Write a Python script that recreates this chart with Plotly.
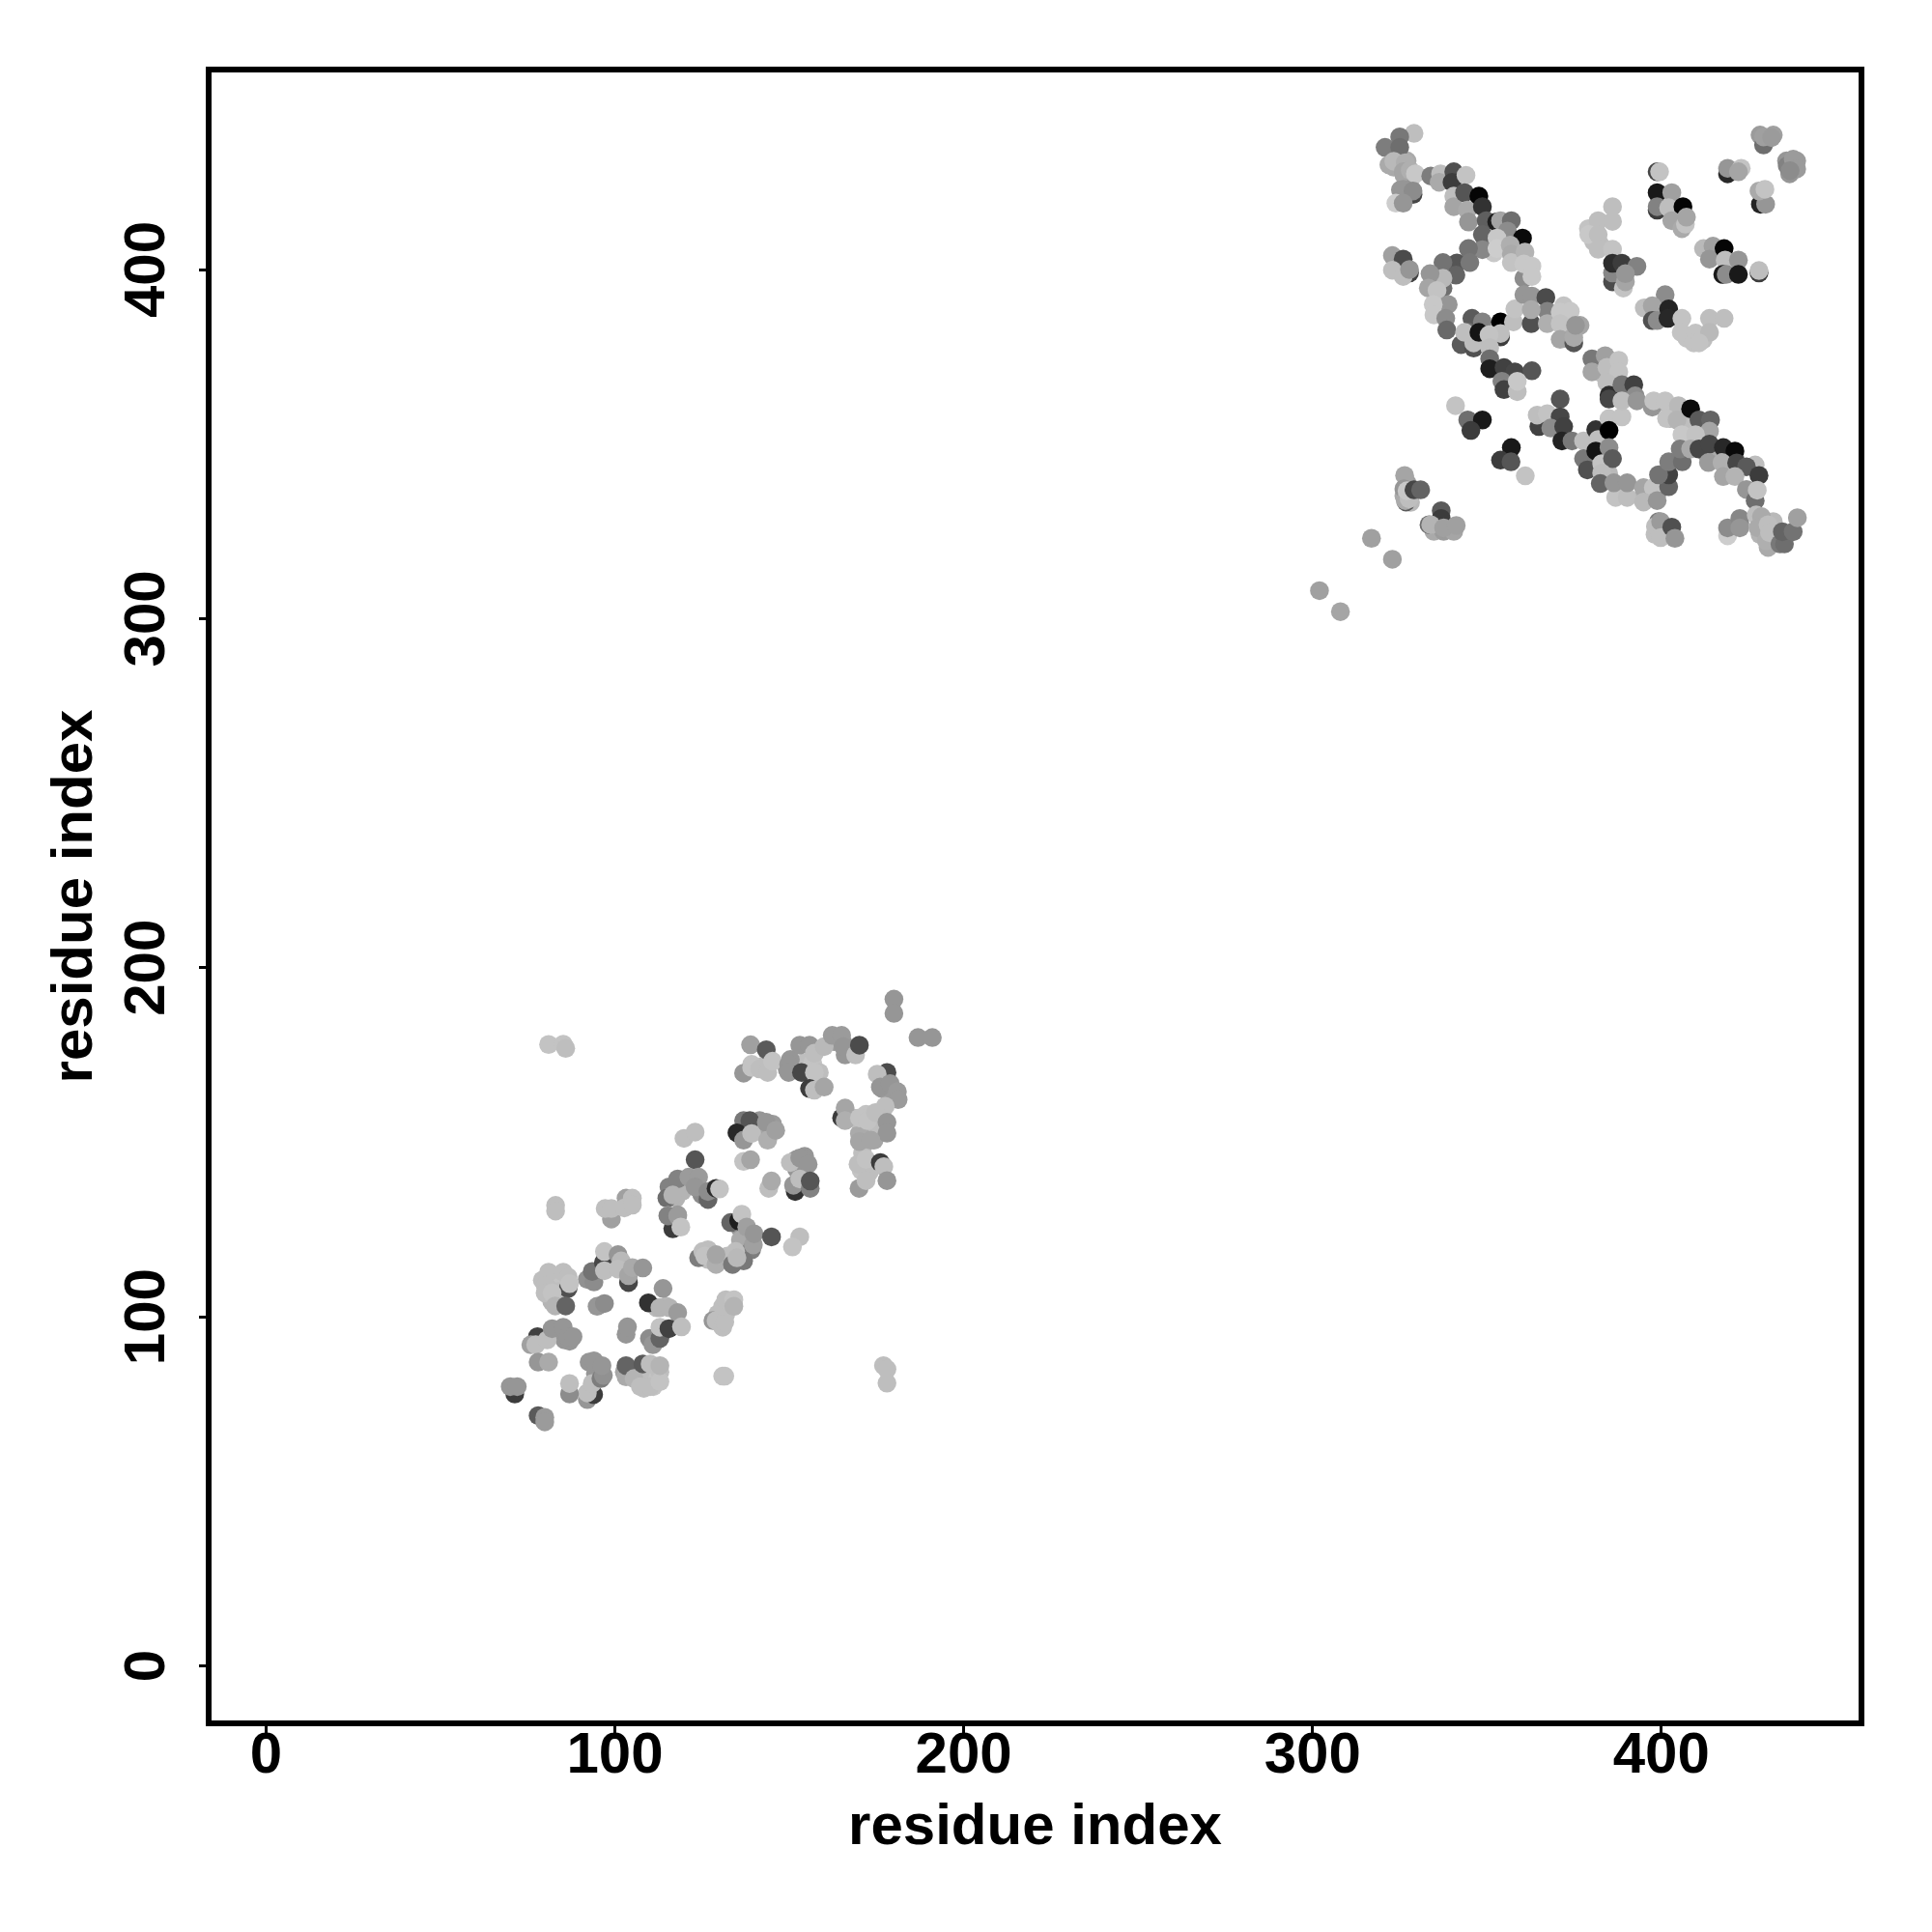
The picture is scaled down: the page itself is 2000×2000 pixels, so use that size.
import plotly.graph_objects as go

tick_values = [0, 100, 200, 300, 400]
x_title = "residue index"
y_title = "residue index"

# (residue i, residue j, grey level)
outliers = [(316.9,323,160),(322.9,317,160),(302,308,160),(308,302,165),(341,361,195),(361,340.9,195)]
upper_fill = [
(352,410.8,190),(353.9,408,195),(349.6,408,130),(355.8,407.1,165),(352,404.8,200),
(323.3,429.3,170),(327.1,431.1,170),(326.2,427,165),(328.1,426,165),(325.2,422.8,150),(327.6,423.7,150),
(428.3,438.5,155),(430.2,437.1,150),(432.1,438.5,160),(435.9,431.1,150),(438.8,431.1,155),(436.8,427.4,150),
(368.2,386.8,185),(370,385,195),(372,389.6,195),(373.9,384,175),(376.7,384,165),(372,380.3,165),(374.8,382.2,170),
(382.5,373,180),(385.3,373.9,180),(383,370.2,190),(386.3,369.3,190),
(383,346.3,190),(383,343.5,195),(384.9,341.6,185),(381,343.5,180),
(402.5,360.1,190),(402.5,357.3,180),(406.8,356,190),(413,347.2,160),(415.9,347.2,170),
(396.8,335.2,165),(394.9,335.2,175),(398.7,335.6,150),(422.5,327.3,145),
(429.2,326,175),(428.3,324.1,180),(432.1,327.8,185),(432.1,323.2,175),(430.6,320.4,170),(434.9,323.2,110),
(326.2,335.2,170),(328.1,333.3,185),(327.1,338.9,160),
(334.8,325,170),(337.6,325,155),(340.5,325,165),(399.6,325,170),(398.2,324.1,190),
(407.3,380.3,195),(412,379.9,190),(379.1,411.7,195),(380.6,408,190),(382.5,407.1,190),
]
lower_fill = [
(83.8,95.7,150),(85.6,93.4,150),(87,93,150),(92.6,87,150),(95.3,85,150),(94.4,83.7,150),
(107.3,83.2,190),(110.1,83.2,190),(112.4,82.8,195),(108.3,79.5,190),(111,80,195),(112.9,84.2,190),(102.7,84.2,165),(104.6,83.2,165),
(81.9,110.5,190),(84.3,109,195),(79.2,110.5,190),(81.9,104.4,180),(81,108.1,190),(83.8,107.2,190),
(136,125.2,150),(138.7,122.9,150),(136,122,170),(112,102.6,185),(114.7,103,185),(102.7,114.6,185),
(126.7,119.2,190),(126.7,116.4,190),(132.3,117.4,190),(129.5,100.8,190),(131.8,100.8,190),
(176.6,165.4,150),(180.3,164.5,155),(178.9,162.6,155),(172,151.5,165),(174.3,150.6,165),(170.1,152.5,170),
(168.3,157,190),(172,158,195),(174.7,155.2,190),(176.6,158.5,190),(170.6,141.9,195),(172.9,141.4,190),(171,146.9,190),
(142.4,153.4,150),(144.3,152.5,165),(141.5,156.2,150),(145.2,155.2,155),(152.1,145.1,150),(154.4,146,150),(152.1,142.3,150),
(154.4,172.8,190),(156.7,172.8,195),(158.6,170,190),(156.3,168.2,190),(150.3,173.7,150),(149.4,170.9,150),(142.4,171.8,190),(139.2,172.3,195),
(162.8,178.8,155),(165.5,178.3,150),(167.4,175.5,150),(166,175,150),
(121.2,137.7,150),(124,136.8,150),(124.9,135,140),(126.7,135,130),(116.6,136.8,170),(117.5,134,180),(119.3,135.9,180),
]
upper_a = [
(329.1,439,190),(325,438,120),(320.8,435,125),(325,435,110),(321.9,430,170),(323.3,431,185),(326.6,430.6,175),(326,428,165),(328,428.4,175),(329.5,427.4,200),
(328.8,421.5,70),(326,423,150),(328.8,422.5,140),(323.9,419,205),(326,419,150),
(333.9,426.8,125),(336.7,427.4,190),(336.3,425,170),(340.5,428,80),(340,425,60),(344,427,195),
(340.5,421,190),(340.5,418,165),(343.6,422,85),(347.7,421,5),(344.4,417,170),(348.7,418,50),(344.7,413.6,150),(349.8,414,95),(352.8,413.6,30),(353.9,414,165),(357,414,110),(355.9,411,140),
(348.7,410,100),(348.7,405.7,135),(360.2,409,10),(352.9,409,200),(352.9,406,205),(356.7,407,175),(357,404.4,170),(357,402,195),(360.9,405,180),(360.6,397.5,140),(360.6,401.6,200),(362.9,401,200),(362.9,398,200),
(344.7,406,115),(341.4,401.9,85),(345.1,402,120),(337.4,402,115),(341.1,398.4,100),(337.4,394.7,110),(337.4,397.5,185),(333.7,398.8,150),(333.2,394.7,165),(335.7,394,195),(338.9,390,150),(334.6,390,200),(334.8,387,200),(338.2,386,140),(338.5,382.7,105),
(322.9,404,160),(326,403,75),(322.9,399.8,190),(327.8,399,65),(326,398,190),(327.8,400,150),
]
upper_b = [
(345.7,386,90),(348.7,385,130),(353.9,385,0),(357.6,385,190),(358,388.7,195),(344.7,382,110),(342.6,378.5,90),(346.2,377.5,80),(346.2,379,190),(343.6,382,190),(347.7,382,20),(353.9,380.7,60),(353.9,381.7,190),(350.6,381.3,195),(350.8,377.6,190),(350.8,374.4,110),(350.8,371.6,30),(354.9,371.9,65),(358,370.7,70),(362.9,371,85),(354.3,368,130),(354.9,365.6,65),(358.7,365,190),(358.7,368,200),
(360.6,392.8,150),(362.9,392.4,150),(366.9,392,75),(367.3,388,130),(362.7,384.5,80),(362.7,388.5,170),(367.3,384.5,175),(371,387.8,200),(373.9,388,200),(371,384.5,195),(371,380,165),(374.9,379,85),(374.9,380.5,170),(375.4,384,150),
(386,418,190),(381.9,414,190),(386,413.8,190),(379.2,410,200),(381.9,410,190),(381.9,405.8,190),(386,405.8,195),(386,396.5,75),(386,399,135),(386,401.8,45),(388.7,401.8,60),(393,400.9,130),(389.1,394.7,195),(389.7,396.5,165),(389.7,398.8,150),
(380.1,374.4,120),(380.1,370.7,165),(383.9,375.3,160),(384.4,372,190),(387.8,374,195),(387.8,370.7,195),(384.4,367.5,190),(385,364,45),(388.7,367,115),(392.1,367,65),(392.5,363.8,140),
(398.8,428,70),(399.5,428,195),(398.8,422,25),(403,422,160),(398.8,417,60),(398.8,418,130),(402.1,417.7,190),(406.2,418,5),(403,414,165),(405.9,411.7,170),(406.9,413,195),(407.2,415,165),
(412.1,406,185),(414.8,406.7,160),(413.8,403,150),(418,406,5),(418.3,402.7,190),(422.1,402.7,150),(417.6,398.6,25),(418.6,398.6,140),(422.1,398.6,25),(428,399,60),(428,399.7,190),
(419,427.4,40),(419,429,150),(422.9,429,195),(422.1,428,165),(428.4,418.7,35),(429.9,418.7,150),(428,422.5,170),(429.7,423,195),
(429.3,435.7,110),(429.3,438,160),(431.6,437.8,155),(436.1,429.7,130),(437.8,431.6,155),(438.8,428.8,155),(436.9,428.3,140),
(401.1,392.8,140),(395.1,389,190),(397.4,389.6,165),(397.4,385.4,80),(398.8,385.4,140),(402.1,388.7,35),(401.9,386,40),(405.9,386,195),(413.8,386,190),(418,386,190),(405.7,382,195),(409.8,381.8,195),(413.8,382,185),(409.3,379,195),(410.8,379,195),
]
upper_c = [
(371,362.9,85),(364.9,355,65),(364.4,358.3,190),(367.3,358.7,195),(371,357.8,70),(368.3,354.6,140),(372,355,65),(371.5,350.9,35),(374.4,350.9,120),(377.7,350.9,190),(377.7,345.8,120),(378.8,342.6,80),
(381.2,354.1,50),(381.9,351.3,190),(385,357.3,195),(388.7,357.8,195),(385,353.9,0),(385,362.9,70),(388.7,362.4,190),(393,362.4,150),(381.2,348,20),(385,349,140),(382.9,344.4,195),(386,345.8,90),(382.9,341.7,190),(382.5,338.7,100),(386.9,334.7,195),(390.2,334.7,190),(386.4,338.9,150),(390.2,338.9,150),
(394.9,337.5,165),(397.7,337.5,195),(394.9,333.4,185),(398.8,333.8,150),(402.1,337.8,100),(402.1,341.2,65),(399.2,341.2,115),(402.1,344.9,125),(406,344.9,110),
(397.4,360.6,150),(397.8,362.4,195),(401.1,362.4,195),(404.9,361,185),(401.5,357.3,195),(404.5,356.9,180),(408.4,360.1,10),(410.8,356.9,90),(414.1,356.9,100),(413.8,353.7,165),(405.9,352.7,200),(409.8,352.7,195),(405.4,348.6,125),(408.4,348.6,170),(410.8,348.6,70),(413.8,350,70),(417.8,349,40),(421.1,348,10),(413.5,344.7,155),(417.4,344.7,175),(421.6,344.6,70),(426.9,344,190),(424.4,343.5,90),(417.8,340.7,165),(421.1,340.7,180),(428,341,60),(424.4,337,150),(426.9,333.8,110),(427.5,336.8,195),
(399.2,327.8,125),(398.3,326.4,190),(399.8,327.8,155),(399.8,323.2,190),(403,326.2,80),(403.9,323,150),
(419,323.7,205),(419,326,140),(422.5,328.7,135),(422.5,326,150),(427.2,329.7,190),(428.7,329.2,170),(427.7,326,170),(430.6,326.9,190),(430.1,322.3,175),(431,324.6,190),(434,321.4,120),(435.3,321.4,110),(434.7,324.9,100),(437.8,324.9,115),(439,328.9,160),
(326.4,341,165),(326.8,333.4,90),(326.2,337.2,150),(326.6,333.8,170),(327.7,334.3,190),(327.1,336.6,200),(329.1,336.9,70),(331,336.9,100),
(336.9,330.9,90),(336.9,328.7,60),(333.4,326.9,110),(333.9,326.9,180),(337.6,326,160),(341.2,326.7,160),
(344.5,356.9,110),(348.7,356.9,25),(345.4,353.9,60),(357,349,25),(353.9,345.4,60),(356.9,344.9,85),
]
lower_a = [
(81,178,195),(85.2,178.1,195),(85.9,176.9,190),
(138.9,177.9,160),(143.4,176.5,90),(136.9,169.8,150),(139.2,171.4,195),(141.5,171,190),(143.8,170,190),(145.2,173.2,195),(149.8,172.3,150),(149.8,170,150),(153,177.8,150),(155.8,177.8,150),(153.5,170,70),(157.2,175.5,190),(160,177.4,185),(157.2,170,195),(155.8,165.4,60),(157.2,164.9,190),(160,165.8,165),(162.3,180.6,155),(165,180.6,155),(165.5,177.4,150),(169,175,190),(170.1,177.8,75),
(180,191,150),(180,186.9,150),(186.9,180,150),(191,180,150),
(178,170,75),(175.2,169.5,190),(176.1,165.8,150),(178.9,166.8,150),(181,164.5,155),(181.2,162.2,155),(177.5,160.3,190),(165,157,60),(166,159.8,165),(166,156.2,175),(170.1,157,195),(172.4,156.2,195),(174.7,158.5,190),(178,155.7,150),(178,152.6,150),(170.1,150.2,165),(173.4,150.6,165),(169.7,143.7,190),(172,145.1,195),(176.1,144.2,60),(177.1,143,190),(170,136.8,155),(172,139,190),(178,139,150),
(136.9,156.2,120),(138.7,156.2,85),(135,152.7,40),(136.9,150.6,150),(139.2,152.5,190),(143.4,155.7,150),(143.8,150.6,175),(146.1,153.4,160),
(119.8,151.1,190),(123,152.9,190),(123,145,85),(136.9,144.5,195),(138.9,145,165),(150.3,144.2,190),(153,145.5,150),(155.4,143.7,150),(151.7,135.9,50),(151.2,137.7,150),(153,139.5,190),(156,136.8,130),(156,138.9,85),(144.1,136.8,190),(144.9,138.9,170),
(115.5,137.2,130),(118,139.5,130),(114.9,134,110),(116.6,134.9,180),(121.2,140,155),(124,140,155),(123,137.2,150),(126.7,133.6,100),(126.7,135.9,140),(129,136.8,45),(130,136.6,195),
]
lower_b = [
(83,131.9,190),(83,130.3,190),(103.2,134,160),(105,134,190),(99,128,160),(97.2,131,190),(99,131,190),(102.7,131.2,190),(105,132,190),
(115.2,129,170),(118,129.2,155),(116.6,125.2,60),(115.2,128.9,130),(118,128.9,155),(118.9,125.7,195),
(133.2,127,100),(135.5,127.5,30),(136.4,129.4,195),(137.8,125.7,160),(139.2,119.2,125),(139.7,120.6,160),(139.9,123.8,150),(144.9,122.9,85),(153,122.9,190),(150.9,120,195),
(124,116.9,125),(125.2,118.7,190),(125.8,117.4,195),(129,115,175),(129,117.8,165),(133.7,115,120),(136.9,116,120),(134.6,118.7,190),(135,116.9,185),
(92.1,110.7,145),(94,110,140),(93.5,113,115),(96.7,115.5,70),(97,113.2,190),(97,118.7,195),(100.9,117.8,150),(101.8,116,185),(100.9,113.7,190),(103.9,109.8,70),(103.9,111.8,165),(105,114.1,170),(108,114,150),
(86.6,108.1,80),(81,112.8,190),(85.2,112.8,190),(80,109,190),(80,106.8,190),(82,106.8,195),(82.9,103.1,180),(85.9,103.1,100),(86.6,111.4,190),(87,109.5,195),
(94.9,103,150),(97,103.8,140),(109.6,104,50),(113.8,108.1,150),(112.9,102.6,180),(115.6,102.6,180),(118,101.2,155),(109.9,93.8,140),(110.9,92,150),(112.9,93.8,100),(112.9,97,195),(115.5,96.6,65),(119.1,97.1,190),
(103.2,95,150),(103.6,97.1,150),(128.1,98.9,150),(129,98.9,190),(130.9,97,190),(131.5,98.5,190),(130.9,103,190),(131.8,104.9,190),(134.1,104.9,195),(134.1,103,180),
(77.8,94.3,65),(75.9,92,160),(77.3,92,190),(80.6,93.4,190),(82,96.6,150),(85.2,97,150),(86.6,94.3,150),(88,94.3,150),(78,87,150),(81,87,170),
(92.1,76.3,150),(93.9,77.7,60),(92.1,78.2,190),(93.5,80.9,190),(87,77.9,140),(87,80.9,190),(96,82.3,125),(96.7,83.2,145),(94,87.4,150),(96.3,86,150),
(103.2,82.8,170),(103.2,86,100),(105.5,82.3,180),(108,86.5,90),(107.3,80,190),(110.1,80,190),(112.9,81.4,195),(110.1,86.5,190),(112.9,86,180),
(130.9,83,195),(131.5,83,195),(71.3,77.9,60),(70,80,150),(72,80,150),(78,71.7,90),(79.9,71.2,155),(79.9,69.9,155),
(177,86,190),(178,85,190),(178,81,190),
]

groups = [outliers, upper_fill, upper_a, upper_b, upper_c, lower_fill, lower_a, lower_b]
xs, ys, grey = [], [], []
for group in groups:
    for a, b, g in group:
        xs.append(a); ys.append(b); grey.append(g)

fig = go.Figure(go.Scatter(
    x=xs, y=ys, mode="markers",
    marker=dict(size=19.5, color=grey, cmin=0, cmax=255,
                colorscale=[[0, "#000000"], [1, "#ffffff"]],
                showscale=False, line=dict(width=0)),
))

font = dict(family="Liberation Sans", size=60, color="black", weight="bold")
axis = dict(
    tickmode="array", tickvals=tick_values, ticktext=[str(v) for v in tick_values],
    showgrid=False, zeroline=False, showline=True, mirror=True,
    linecolor="black", linewidth=5.5, ticks="outside", ticklen=7, tickwidth=3,
    tickcolor="black", tickfont=font,
)
fig.update_layout(
    width=2000, height=2000, showlegend=False,
    paper_bgcolor="white", plot_bgcolor="white",
    margin=dict(l=211.3, r=83.7, t=67.4, b=227, autoexpand=False),
    xaxis=dict(axis, range=[-15.63, 456.55], ticklabelstandoff=-31,
               title=dict(text=x_title, font=font, standoff=22)),
    yaxis=dict(axis, range=[-15.63, 456.45], tickangle=-90, ticklabelstandoff=12, ticklabelshift=9,
               title=dict(text=y_title, font=font, standoff=3)),
)
fig.write_html("out.html")
